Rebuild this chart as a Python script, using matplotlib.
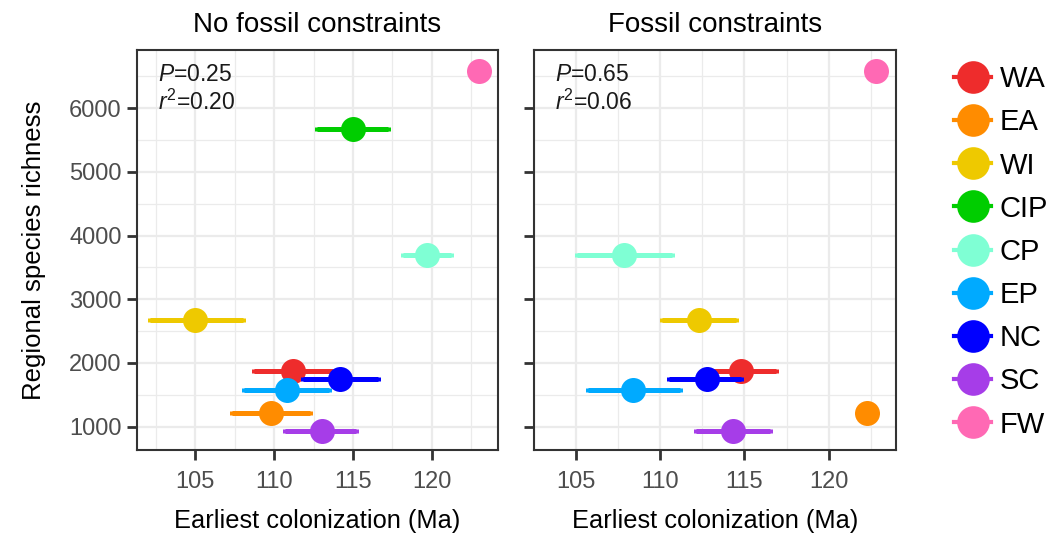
import numpy as np
import matplotlib
matplotlib.use("Agg")
import matplotlib.pyplot as plt
from matplotlib.lines import Line2D

plt.rcParams['font.family'] = ['Liberation Sans', 'DejaVu Sans']
plt.rcParams['mathtext.fontset'] = 'custom'
plt.rcParams['mathtext.it'] = 'Liberation Sans:italic'
plt.rcParams['mathtext.rm'] = 'Liberation Sans'

regions = ['WA', 'EA', 'WI', 'CIP', 'CP', 'EP', 'NC', 'SC', 'FW']
colors = ['#EE2C2C', '#FF8C00', '#EEC900', '#00CD00', '#7FFFD4', '#00AAFF', '#0000FF', '#A63DE8', '#FF69B4']
richness = [1870, 1220, 2670, 5670, 3700, 1570, 1755, 933, 6590]

# sin restricciones fósiles
col_nf = [111.2, 109.8, 105.0, 115.0, 119.7, 110.8, 114.2, 113.0, 123.0]
lo_nf = [108.7, 107.3, 102.1, 112.7, 118.2, 108.1, 111.8, 110.7, np.nan]
hi_nf = [113.7, 112.3, 108.0, 117.2, 121.2, 113.5, 116.6, 115.2, np.nan]

# con restricciones fósiles
col_f = [114.8, 122.3, 112.3, np.nan, 107.85, 108.4, 112.8, 114.3, 122.8]
lo_f = [112.6, np.nan, 110.1, np.nan, 105.05, 105.7, 110.5, 112.1, np.nan]
hi_f = [116.9, np.nan, 114.5, np.nan, 110.7, 111.2, 114.8, 116.5, np.nan]

panels = [
    ("No fossil constraints", col_nf, lo_nf, hi_nf, (101.3, 124.2), "0.25", "0.20"),
    ("Fossil constraints", col_f, lo_f, hi_f, (104.37, 124.0), "0.65", "0.06"),
]

fig = plt.figure(figsize=(10.51, 5.35), dpi=100)
ax1 = fig.add_axes([0.1304, 0.1589, 0.3435, 0.7477])
ax2 = fig.add_axes([0.5081, 0.1589, 0.3444, 0.7477])

for ax, (title, x, lo, hi, xlim, p, r2) in zip([ax1, ax2], panels):
    for i in range(len(regions)):
        if np.isnan(x[i]):
            continue
        if not np.isnan(lo[i]):
            ax.errorbar(x[i], richness[i], xerr=[[x[i] - lo[i]], [hi[i] - x[i]]],
                        fmt='none', ecolor=colors[i], elinewidth=3.6, capsize=1.5,
                        capthick=3.6, zorder=3 + i)
        ax.plot(x[i], richness[i], 'o', color=colors[i], markersize=18,
                markeredgewidth=0, zorder=3 + i)
    ax.set_xlim(*xlim)
    ax.set_ylim(634, 6915)
    ax.set_xticks([105, 110, 115, 120])
    ax.set_xticks([102.5, 107.5, 112.5, 117.5, 122.5], minor=True)
    ax.set_yticks([1000, 2000, 3000, 4000, 5000, 6000])
    ax.set_yticks([1500, 2500, 3500, 4500, 5500, 6500], minor=True)
    ax.grid(which='major', color='#EBEBEB', linewidth=1.6, zorder=0)
    ax.grid(which='minor', color='#EBEBEB', linewidth=0.9, zorder=0)
    ax.set_axisbelow(True)
    ax.tick_params(which='major', direction='out', length=7, width=2, color='#333333',
                   labelsize=17, labelcolor='#4D4D4D', pad=4)
    ax.tick_params(axis='x', pad=8)
    ax.tick_params(which='minor', length=0)
    for s in ax.spines.values():
        s.set_color('#333333')
        s.set_linewidth(1.5)
    ax.set_title(title, fontsize=20, pad=13)
    ax.set_xlabel("Earliest colonization (Ma)", fontsize=18.3, labelpad=12)
    ax.text(0.058, 0.9225, r"$\it{P}$=" + p, transform=ax.transAxes, fontsize=16.5,
            va='baseline', ha='left', color='#1A1A1A')
    ax.text(0.058, 0.85, r"$\it{r}^{2}$=" + r2, transform=ax.transAxes, fontsize=16.5,
            va='baseline', ha='left', color='#1A1A1A')

ax1.set_ylabel("Regional species richness", fontsize=18.5, labelpad=17)
ax2.tick_params(axis='y', labelleft=False)

handles = [Line2D([], [], color=c, marker='o', markersize=23.5, lw=3.0, markeredgewidth=0)
           for c in colors]
fig.legend(handles, regions, loc='upper left', bbox_to_anchor=(0.897, 0.9),
           frameon=False, fontsize=21, handlelength=1.25, handletextpad=0.3,
           labelspacing=0.52, borderaxespad=0)

fig.savefig("out.png", dpi=100)
